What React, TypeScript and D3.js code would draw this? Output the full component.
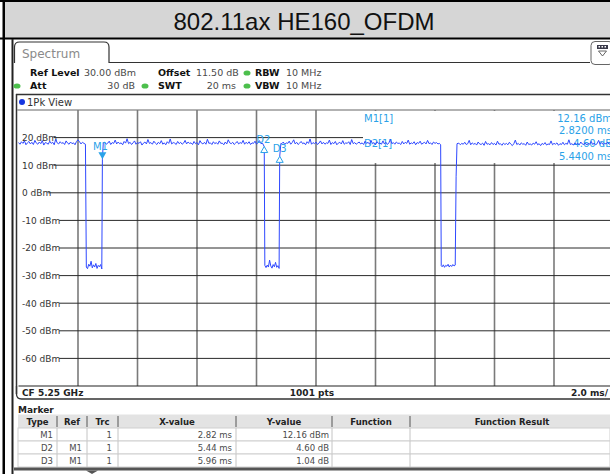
import React from "react";
import * as d3 from "d3";

const WIDTH = 610;
const HEIGHT = 474;

const TITLE = "802.11ax HE160_OFDM";

// Display settings
const sweepStartMs = 0;
const sweepStopMs = 20;
const refLevelDbm = 30;
const bottomLevelDbm = -70;
const timeGridMs = [2, 4, 6, 8, 10, 12, 14, 16, 18];
const levelGridDbm = [20, 10, 0, -10, -20, -30, -40, -50, -60];

// Trace 1 (1Pk): burst levels every 0.05 ms, gap floors every 0.04 ms
const burst1 = [
  18.2, 17.6, 18.5, 17.9, 18.8, 17.4, 18.1, 18.6, 17.7, 18.3,
  17.5, 19.0, 18.0, 17.6, 18.4, 17.8, 18.9, 17.3, 18.2, 18.0,
  17.6, 18.7, 17.9, 18.3, 17.4, 19.4, 18.1, 17.7, 18.5, 17.9,
  18.2, 17.5, 18.8, 18.0, 17.6, 18.4, 17.8, 18.1, 17.4, 18.6,
  19.2, 18.5, 17.7, 18.3, 17.9, 17.6,
];
const gap1 = [-27.5, -25.9, -26.6, -24.8, -27.2, -26.1, -26.9, -25.6, -27.4, -26.3, -26.8, -26.0, -27.6];
const burst2 = [
  18.3, 17.6, 18.0, 18.7, 17.5, 18.2, 17.9, 19.1, 17.7, 18.4,
  17.8, 18.1, 17.4, 18.6, 18.0, 19.6, 17.8, 18.3, 17.5, 18.1,
  18.8, 17.6, 18.2, 17.9, 18.5, 17.3, 18.0, 18.4, 17.7, 19.3,
  17.9, 18.2, 17.6, 18.7, 18.0, 17.5, 18.3, 17.8, 18.9, 17.6,
  18.1, 17.4, 18.5, 17.9, 19.5, 17.7, 18.2, 18.0, 17.5, 18.6,
  17.8, 18.3, 17.6, 18.0, 19.0, 17.7, 18.4, 17.9, 18.1, 17.5,
  18.6, 17.8, 18.2, 17.4, 18.9, 18.0, 17.7, 18.3, 17.6, 19.4,
  17.9, 18.1, 17.5, 18.5, 17.8, 18.2, 17.6, 18.8, 17.9, 18.0,
  17.4, 18.4, 17.7, 19.2, 18.1, 17.8, 18.3, 17.5, 18.0, 18.6,
  17.7, 18.2, 17.9, 19.0, 17.6, 18.3, 17.8, 18.5, 17.5, 18.1,
  17.9, 18.7, 17.6, 18.2, 18.9, 17.8, 18.0,
];
const gap2 = [-27.1, -26.2, -26.9, -24.4, -26.5, -27.3, -26.0, -26.8, -25.2, -27.0, -26.4, -27.4];
const burst3 = [
  17.8, 18.4, 17.5, 18.1, 17.9, 18.7, 17.6, 18.2, 19.2, 17.7,
  18.3, 17.5, 18.0, 18.6, 17.8, 18.1, 17.4, 18.5, 17.9, 19.5,
  17.6, 18.2, 17.8, 18.4, 17.5, 18.0, 18.8, 17.7, 18.3, 17.6,
  18.1, 17.9, 19.1, 17.5, 18.2, 17.8, 18.6, 17.4, 18.0, 18.3,
  17.7, 18.9, 17.6, 18.1, 17.9, 18.5, 17.5, 19.3, 17.8, 18.2,
  17.6, 18.0, 18.4, 17.7, 18.1, 17.5, 18.7, 17.9, 18.3, 17.6,
  19.0, 17.8, 18.2, 17.4, 18.5, 17.9, 18.0, 17.6, 18.8, 17.7,
  18.3, 17.5, 18.1, 19.4, 17.8, 18.2, 17.6, 18.4, 17.9, 18.0,
  17.5, 18.6, 17.7, 18.3, 17.9, 19.1, 17.6, 18.1, 17.8, 18.5,
  17.4, 18.2, 17.9, 18.7, 17.6, 18.0, 18.3, 17.7, 19.0, 17.8,
  18.1, 17.5, 18.4, 17.9, 18.2, 17.7, 17.9,
];
const gap3 = [-26.8, -26.1, -27.0, -26.3, -26.6, -25.9, -26.9, -26.2, -26.7, -26.0, -26.5];
const burst4 = [
  18.0, 17.4, 17.9, 17.6, 18.3, 17.5, 17.8, 19.0, 17.4, 18.1,
  17.6, 17.9, 17.3, 18.4, 17.7, 17.5, 18.0, 17.2, 18.6, 17.6,
  17.8, 17.4, 18.2, 17.5, 17.9, 17.3, 18.7, 17.6, 17.8, 17.2,
  18.0, 17.5, 17.9, 17.4, 18.3, 17.6, 17.1, 17.8, 19.1, 17.5,
  17.9, 17.3, 18.1, 17.6, 17.8, 17.2, 18.4, 17.5, 17.7, 17.3,
  18.0, 17.6, 18.5, 17.4, 17.8, 17.1, 17.9, 17.5, 18.2, 17.3,
  17.7, 17.5, 18.8, 17.4, 17.9, 17.6, 18.1, 17.2, 17.8, 17.5,
  18.3, 17.4, 17.9, 17.6, 19.2, 17.5, 17.8, 17.3, 18.0, 17.6,
  17.9, 17.4, 18.4, 17.7, 17.5, 18.1, 17.3, 17.9, 17.6, 18.6,
  17.5, 18.0, 17.4, 17.8, 19.0, 17.6, 18.2, 17.5, 17.9, 17.7,
  18.3, 17.6, 17.9, 17.4, 18.1,
];

// Marker table
const markerTypes = ["M1", "D2", "D3"];
const markerRefs = ["", "M1", "M1"];
const markerTraces = [1, 1, 1];
const markerXms = [2.82, 5.44, 5.96];
const markerYvals = [12.16, 4.6, 1.04];
const markerYunits = ["dBm", "dB", "dB"];

type Pt = [number, number];
const sampled = (t0: number, dt: number, vals: number[]): Pt[] =>
  vals.map((v, i) => [+(t0 + i * dt).toFixed(3), v] as Pt);

const m1Time = markerXms[0];
const m1Level = markerYvals[0];
const d2Time = m1Time + markerXms[1];
const d2Level = m1Level + markerYvals[1];
const d3Time = m1Time + markerXms[2];
const d3Level = m1Level + markerYvals[2];

const trace: Pt[] = [
  ...sampled(0, 0.05, burst1),
  [2.28, -26.9],
  ...sampled(2.32, 0.04, gap1),
  [m1Time, m1Level], [2.85, 18.2],
  ...sampled(2.9, 0.05, burst2),
  [d2Time, d2Level], [8.28, -26.3],
  ...sampled(8.32, 0.04, gap2),
  [d3Time, d3Level], [8.82, 17.9],
  ...sampled(8.85, 0.05, burst3),
  [14.19, 17.4], [14.21, -26.4],
  ...sampled(14.24, 0.04, gap3),
  [14.68, -26.2], [14.71, 6.0], [14.74, 17.8],
  ...sampled(14.8, 0.05, burst4),
];

const UI = "'DejaVu Sans', Verdana, sans-serif";
const TRACE_BLUE = "#2e48ff";
const MARK_BLUE = "#2aa2e8";
const GREEN = "#4cbf4c";
const VALUE_GRAY = "#4a4a4a";

const plotLeft = 18.5;
const plotRight = 613.5;
const plotTop = 110;
const plotBottom = 386;

export default function App() {
  const x = d3.scaleLinear().domain([sweepStartMs, sweepStopMs]).range([plotLeft, plotRight]);
  const y = d3.scaleLinear().domain([bottomLevelDbm, refLevelDbm]).range([plotBottom, plotTop]);
  const line = d3
    .line<Pt>()
    .x((d) => x(d[0]))
    .y((d) => y(d[1]));

  const m1 = { x: x(m1Time), y: y(m1Level) };
  const d2 = { x: x(d2Time), y: y(d2Level) };
  const d3p = { x: x(d3Time), y: y(d3Level) };

  // marker table columns
  const cols = [18, 57, 87, 118, 236, 332, 410, 614];
  const headers = ["Type", "Ref", "Trc", "X-value", "Y-value", "Function", "Function Result"];
  const rowTop = 428;
  const rowH = 13;

  return (
    <svg
      width={WIDTH}
      height={HEIGHT}
      viewBox={`0 0 ${WIDTH} ${HEIGHT}`}
      style={{ position: "absolute", left: 0, top: 0, display: "block" }}
    >
      <rect x={0} y={0} width={WIDTH} height={HEIGHT} fill="#ffffff" />

      {/* title bar */}
      <rect x={4} y={0.5} width={WIDTH} height={38} fill="#d6d6d6" />
      <line x1={0} x2={WIDTH} y1={1} y2={1} stroke="#000" strokeWidth={2} />
      <line x1={0} x2={WIDTH} y1={38.5} y2={38.5} stroke="#000" strokeWidth={2.2} />
      <rect x={2.5} y={0} width={2.5} height={HEIGHT} fill="#000" />
      <text x={304} y={30} textAnchor="middle" fontFamily="'Liberation Sans', Arial, sans-serif" fontSize={24} fill="#111">
        {TITLE}
      </text>

      {/* instrument bezel */}
      <rect x={11.5} y={39} width={2} height={HEIGHT - 39} fill="#222" />

      {/* Spectrum tab */}
      <path d="M14.5 63 V47 Q14.5 42 19.5 42 H104 Q109 42 109 47 V62.5 H590" fill="none" stroke="#333" strokeWidth={1.2} />
      <text x={22} y={58} fontFamily={UI} fontSize={12} fill="#8a8a8a">Spectrum</text>
      <rect x={591} y={41.5} width={22} height={23} rx={4} fill="#fff" stroke="#666" strokeWidth={1} />
      <rect x={597} y={45} width={11} height={4} fill="#3a3a4a" />
      {[598.5, 601.5, 604.5].map((cx) => (
        <rect key={cx} x={cx} y={46} width={1.5} height={1.5} fill="#fff" />
      ))}
      <path d="M598.5 51 H606.5 L602.5 56 Z" fill="none" stroke="#555" strokeWidth={0.9} />

      {/* settings */}
      <g fontFamily={UI} fontSize={9.5}>
        <text x={30} y={76} fontWeight="bold" fill="#111">Ref Level</text>
        <text x={84} y={76} fill={VALUE_GRAY}>30.00 dBm</text>
        <text x={158} y={76} fontWeight="bold" fill="#111">Offset</text>
        <text x={196} y={76} fill={VALUE_GRAY}>11.50 dB</text>
        <ellipse cx={247} cy={73} rx={3.5} ry={2.6} fill={GREEN} />
        <text x={255} y={76} fontWeight="bold" fill="#111">RBW</text>
        <text x={286} y={76} fill={VALUE_GRAY}>10 MHz</text>

        <ellipse cx={17} cy={86} rx={3.5} ry={2.6} fill={GREEN} />
        <text x={30} y={89} fontWeight="bold" fill="#111">Att</text>
        <text x={135} y={89} textAnchor="end" fill={VALUE_GRAY}>30 dB</text>
        <ellipse cx={145} cy={86} rx={3.5} ry={2.6} fill={GREEN} />
        <text x={158} y={89} fontWeight="bold" fill="#111">SWT</text>
        <text x={236} y={89} textAnchor="end" fill={VALUE_GRAY}>20 ms</text>
        <ellipse cx={247} cy={86} rx={3.5} ry={2.6} fill={GREEN} />
        <text x={255} y={89} fontWeight="bold" fill="#111">VBW</text>
        <text x={286} y={89} fill={VALUE_GRAY}>10 MHz</text>
      </g>

      {/* view frame */}
      <line x1={16} x2={WIDTH} y1={94.5} y2={94.5} stroke="#333" strokeWidth={1.5} />
      <line x1={16.5} x2={16.5} y1={94} y2={394} stroke="#333" strokeWidth={1.5} />
      <circle cx={22} cy={102} r={3} fill="#1636e0" />
      <text x={27} y={105.5} fontFamily={UI} fontSize={10} fill="#333">1Pk View</text>
      <line x1={17} x2={WIDTH} y1={plotTop} y2={plotTop} stroke="#999" strokeWidth={1.5} />

      {/* grid */}
      {timeGridMs.map((t) => (
        <line key={`v${t}`} x1={x(t)} x2={x(t)} y1={plotTop} y2={plotBottom} stroke="#7a7a7a" strokeWidth={1.6} />
      ))}
      {levelGridDbm.map((v) => (
        <line key={`h${v}`} x1={plotLeft} x2={plotRight} y1={y(v)} y2={y(v)} stroke="#2a2a2a" strokeWidth={1} />
      ))}
      {levelGridDbm.map((v) => {
        const label = `${v} dBm`;
        return (
          <g key={`l${v}`}>
            <rect x={18} y={y(v) - 5.5} width={label.length * 5.45 + 3} height={11} fill="#fff" />
            <text x={22} y={y(v) + 3.3} fontFamily={UI} fontSize={9} fill="#333">{label}</text>
          </g>
        );
      })}
      <line x1={plotLeft} x2={plotRight} y1={plotBottom} y2={plotBottom} stroke="#222" strokeWidth={1.2} />

      {/* marker info */}
      <rect x={363} y={111} width={WIDTH - 363} height={52} fill="#fff" />
      <g fontFamily={UI} fontSize={10} fill={MARK_BLUE}>
        <text x={364} y={121.5}>M1[1]</text>
        <text x={612} y={121.5} textAnchor="end">{`${m1Level.toFixed(2)} dBm`}</text>
        <text x={612} y={133.5} textAnchor="end">{`${m1Time.toFixed(4)} ms`}</text>
        <text x={364} y={146.5}>D2[1]</text>
        <text x={612} y={146.5} textAnchor="end">{`${markerYvals[1].toFixed(2)} dB`}</text>
        <text x={612} y={159.5} textAnchor="end">{`${markerXms[1].toFixed(4)} ms`}</text>
      </g>

      {/* trace */}
      <path d={line(trace) ?? ""} fill="none" stroke={TRACE_BLUE} strokeWidth={1} strokeLinejoin="round" />

      {/* markers */}
      <g fontFamily={UI} fontSize={10} fill={MARK_BLUE}>
        <path d={`M${m1.x - 4} ${m1.y - 7} H${m1.x + 4} L${m1.x} ${m1.y} Z`} fill={MARK_BLUE} />
        <text x={m1.x - 2} y={m1.y - 9.5} textAnchor="middle">M1</text>
        <path d={`M${d2.x} ${d2.y} L${d2.x + 3.5} ${d2.y + 6} H${d2.x - 3.5} Z`} fill="#fff" stroke={MARK_BLUE} strokeWidth={1} />
        <text x={d2.x - 1} y={d2.y - 4} textAnchor="middle">D2</text>
        <path d={`M${d3p.x} ${d3p.y} L${d3p.x + 3.5} ${d3p.y + 6} H${d3p.x - 3.5} Z`} fill="#fff" stroke={MARK_BLUE} strokeWidth={1} />
        <text x={d3p.x} y={d3p.y - 4} textAnchor="middle">D3</text>
      </g>

      {/* bottom status bar */}
      <path d={`M16.5 386 V394 Q16.5 399 21.5 399 H${WIDTH}`} fill="none" stroke="#333" strokeWidth={1.3} />
      <g fontFamily={UI} fontSize={9} fontWeight="bold" fill="#222">
        <text x={22} y={396}>CF 5.25 GHz</text>
        <text x={312} y={396} textAnchor="middle">1001 pts</text>
        <text x={608} y={396} textAnchor="end">2.0 ms/</text>
      </g>

      {/* marker table */}
      <text x={18} y={412.5} fontFamily={UI} fontSize={9} fontWeight="bold" fill="#222">Marker</text>
      <rect x={18} y={414.5} width={WIDTH - 18} height={13.5} fill="#e3e3e3" />
      {cols.slice(1, -1).map((c) => (
        <line key={`hc${c}`} x1={c} x2={c} y1={416} y2={427} stroke="#555" strokeWidth={1} />
      ))}
      {headers.map((h, i) => (
        <text
          key={h}
          x={(cols[i] + cols[i + 1]) / 2}
          y={425}
          textAnchor="middle"
          fontFamily={UI}
          fontSize={8.5}
          fontWeight="bold"
          fill="#222"
        >
          {h}
        </text>
      ))}
      {markerTypes.map((mt, r) => {
        const top = rowTop + r * rowH;
        const base = top + 10;
        return (
          <g key={mt} fontFamily={UI} fontSize={8.5} fill={VALUE_GRAY}>
            <rect x={18} y={top} width={WIDTH - 18} height={rowH} fill="#fff" stroke="#cfcfcf" strokeWidth={1} />
            {cols.slice(1, -1).map((c) => (
              <line key={`rc${c}`} x1={c} x2={c} y1={top} y2={top + rowH} stroke="#c4c4c4" strokeWidth={1} />
            ))}
            <text x={cols[1] - 4} y={base} textAnchor="end">{mt}</text>
            <text x={cols[2] - 5} y={base} textAnchor="end">{markerRefs[r]}</text>
            <text x={cols[3] - 6} y={base} textAnchor="end">{markerTraces[r]}</text>
            <text x={cols[4] - 4} y={base} textAnchor="end">{`${markerXms[r].toFixed(2)} ms`}</text>
            <text x={cols[5] - 3} y={base} textAnchor="end">{`${markerYvals[r].toFixed(2)} ${markerYunits[r]}`}</text>
          </g>
        );
      })}
      <rect x={14} y={467.5} width={WIDTH - 14} height={3} fill="#555" />
      <path d="M86 470.5 L92 474 L98 470.5 Z" fill="#555" />
    </svg>
  );
}
